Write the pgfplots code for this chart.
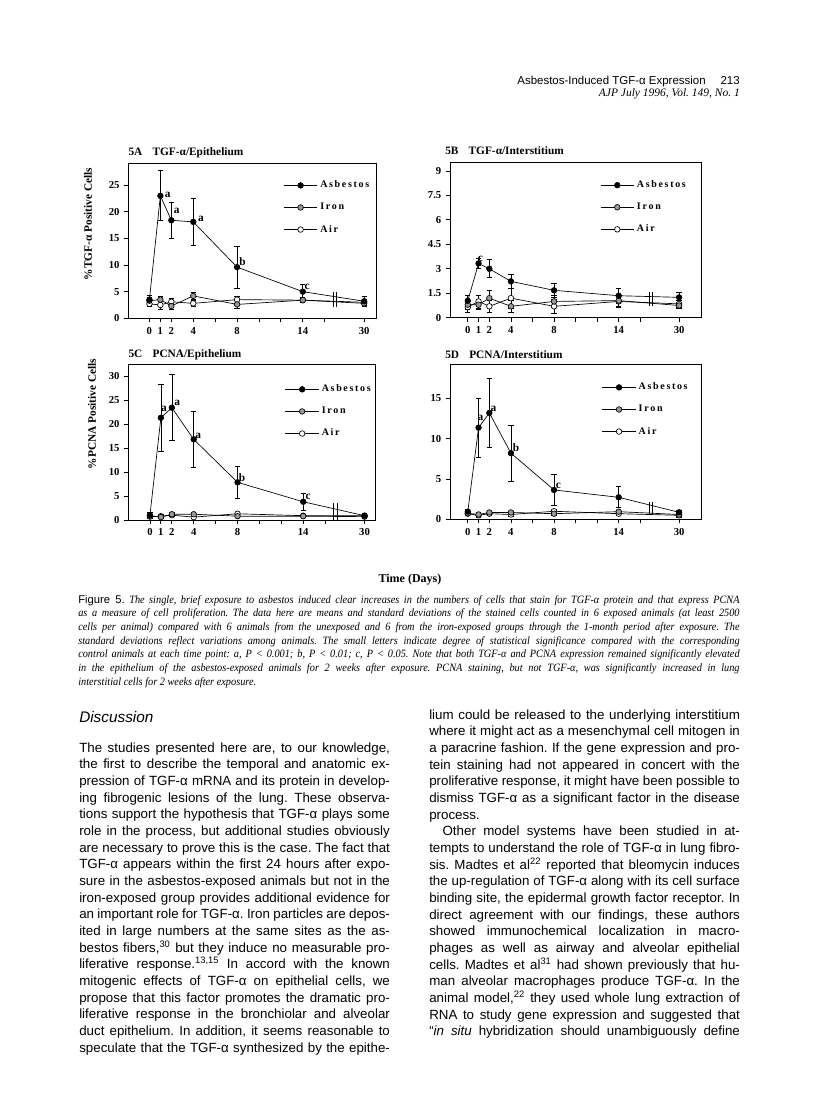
\documentclass[border=0pt]{standalone}
\usepackage{pgfplots}
\pgfplotsset{compat=1.18}
\usepackage{fontspec}
\setmainfont{Liberation Serif}
\setsansfont{Liberation Sans}
\newfontfamily\capfont[FakeStretch=0.92]{Liberation Serif}
\frenchspacing

\newlength\colw \setlength\colw{233pt}
\newlength\capw \setlength\capw{496pt}
\newcommand\JL[1]{\hbox to\colw{#1}}
\newcommand\LL[1]{\hbox to\colw{#1\hfil}}
\newcommand\CJ[1]{\hbox to\capw{#1}}
\newcommand\CL[1]{\hbox to\capw{#1\hfil}}

\tikzset{lab/.style={font=\bfseries\fontsize{8.5}{9}\selectfont, inner sep=0pt}}
\pgfplotsset{
  panel/.style={
    scale only axis, ymin=0,
    axis line style={line width=0.6pt},
    tick align=outside, tick pos=left,
    major tick length=3pt,
    tick style={line width=0.6pt, black},
    xtick={0,1,2,4,6,8,10,12,14,16,19.6},
    xticklabels={0,1,2,4,,8,,,14,,30},
    ticklabel style={font=\bfseries\fontsize{8}{9}\selectfont},
    /pgf/number format/assume math mode=true,
    legend cell align=left,
    reverse legend,
    legend image code/.code={\draw[mark repeat=2,mark phase=2] plot coordinates {(0pt,0pt)(12.5pt,0pt)(25pt,0pt)};},
    legend style={draw=none, fill=none, anchor=north west, inner sep=0pt,
      row sep=6pt, font=\bfseries\fontsize{7.5}{8}\selectfont},
  },
  ser/.style={black, line width=0.5pt, mark=*, mark size=2.1pt,
    error bars/y dir=both, error bars/y explicit,
    error bars/error bar style={line width=0.5pt},
    error bars/error mark options={rotate=90, mark size=2pt, line width=0.5pt}},
  asb/.style={ser, mark options={fill=black, draw=black}},
  iron/.style={ser, mark options={fill=gray!80, draw=black}},
  air/.style={ser, mark options={fill=white, draw=black}},
  brk/.style={black, no markers, line width=0.6pt, forget plot},
}

\begin{document}
\begin{tikzpicture}
\path[use as bounding box] (0,0) rectangle (612pt,-836.25pt);

% 5A
\begin{axis}[panel, at={(96.2pt,-238.7pt)}, anchor=south west,
  width=185.8pt, height=116.25pt, xmin=-1.93, xmax=20.68, ymax=29.1,
  ytick={0,5,...,25}, legend style={at={(0.626,0.905)}}]
\addplot[air] coordinates {(0,2.7) +- (0,0.5) (1,2.5) +- (0,0.8) (2,3.1) +- (0,0.6) (4,2.8) +- (0,0.6) (8,3.5) +- (0,0.7) (14,3.4) +- (0,0.5) (19.6,3.0) +- (0,0.5)};
\addplot[iron] coordinates {(0,3.3) +- (0,0.6) (1,3.5) +- (0,0.7) (2,2.3) +- (0,0.6) (4,4.2) +- (0,0.6) (8,2.6) +- (0,0.8) (14,3.4) +- (0,0.5) (19.6,2.8) +- (0,0.6)};
\addplot[asb] coordinates {(0,3.5) +- (0,0.8) (1,23.0) +- (0,4.7) (2,18.4) +- (0,3.4) (4,18.1) +- (0,4.4) (8,9.6) +- (0,3.9) (14,5.0) +- (0,1.4) (19.6,3.2) +- (0,1.0)};
\addplot[brk] coordinates {(16.8,2.2) (16.8,5.0)};
\addplot[brk] coordinates {(17.1,2.2) (17.1,5.0)};
\legend{A\,i\,r, I\,r\,o\,n, A\,s\,b\,e\,s\,t\,o\,s}
\node[lab] at (axis cs:1.68,23.2) {a};
\node[lab] at (axis cs:2.5,20.2) {a};
\node[lab] at (axis cs:4.7,18.6) {a};
\node[lab] at (axis cs:8.5,10.6) {b};
\node[lab] at (axis cs:14.4,5.9) {c};
\end{axis}

% 5B
\begin{axis}[panel, at={(337.5pt,-238.3pt)}, anchor=south west,
  width=188.8pt, height=116.25pt, xmin=-1.65, xmax=21.7, ymax=9.5,
  ytick={0,1.5,3,4.5,6,7.5,9}, legend style={at={(0.596,0.903)}}]
\addplot[air] coordinates {(0,0.65) +- (0,0.3) (1,1.0) +- (0,0.4) (2,0.7) +- (0,0.35) (4,1.2) +- (0,0.6) (8,0.7) +- (0,0.45) (14,1.0) +- (0,0.3) (19.6,0.85) +- (0,0.2)};
\addplot[iron] coordinates {(0,0.8) +- (0,0.3) (1,0.8) +- (0,0.3) (2,1.2) +- (0,0.5) (4,0.7) +- (0,0.35) (8,1.0) +- (0,0.35) (14,1.05) +- (0,0.4) (19.6,0.75) +- (0,0.2)};
\addplot[asb] coordinates {(0,1.04) +- (0,0.35) (1,3.33) +- (0,0.3) (2,3.0) +- (0,0.55) (4,2.23) +- (0,0.4) (8,1.68) +- (0,0.4) (14,1.35) +- (0,0.45) (19.6,1.25) +- (0,0.3)};
\addplot[brk] coordinates {(16.8,0.7) (16.8,1.6)};
\addplot[brk] coordinates {(17.1,0.7) (17.1,1.6)};
\legend{A\,i\,r, I\,r\,o\,n, A\,s\,b\,e\,s\,t\,o\,s}
\node[lab] at (axis cs:1.17,3.58) {c};
\end{axis}

% 5C
\begin{axis}[panel, at={(96.2pt,-390pt)}, anchor=south west,
  width=185pt, height=117pt, xmin=-1.98, xmax=20.55, ymax=32.5,
  ytick={0,5,...,30}, legend style={at={(0.635,0.885)}}]
\addplot[air] coordinates {(0,0.7) +- (0,0.3) (1,0.8) +- (0,0.3) (2,1.0) +- (0,0.3) (4,0.6) +- (0,0.3) (8,1.3) +- (0,0.3) (14,0.9) +- (0,0.3) (19.6,0.9) +- (0,0.3)};
\addplot[iron] coordinates {(0,0.9) +- (0,0.3) (1,0.6) +- (0,0.3) (2,1.2) +- (0,0.3) (4,1.2) +- (0,0.3) (8,0.8) +- (0,0.3) (14,0.8) +- (0,0.3) (19.6,0.7) +- (0,0.3)};
\addplot[asb] coordinates {(0,1.0) +- (0,0.5) (1,21.3) +- (0,7.0) (2,23.4) +- (0,6.9) (4,16.8) +- (0,5.9) (8,7.85) +- (0,3.4) (14,3.8) +- (0,1.8) (19.6,0.9) +- (0,0.4)};
\addplot[brk] coordinates {(16.8,0.1) (16.8,3.5)};
\addplot[brk] coordinates {(17.1,0.1) (17.1,3.5)};
\legend{A\,i\,r, I\,r\,o\,n, A\,s\,b\,e\,s\,t\,o\,s}
\node[lab] at (axis cs:1.28,23.06) {a};
\node[lab] at (axis cs:2.49,24.4) {a};
\node[lab] at (axis cs:4.4,17.5) {a};
\node[lab] at (axis cs:8.4,8.9) {b};
\node[lab] at (axis cs:14.45,4.85) {c};
\end{axis}

% 5D
\begin{axis}[panel, at={(337.5pt,-389.5pt)}, anchor=south west,
  width=188.8pt, height=116.25pt, xmin=-1.65, xmax=21.7, ymax=19.2,
  ytick={0,5,10,15}, legend style={at={(0.603,0.899)}}]
\addplot[air] coordinates {(0,0.7) +- (0,0.2) (1,0.5) +- (0,0.2) (2,0.7) +- (0,0.2) (4,0.6) +- (0,0.2) (8,1.0) +- (0,0.2) (14,0.7) +- (0,0.2) (19.6,0.5) +- (0,0.2)};
\addplot[iron] coordinates {(0,0.75) +- (0,0.2) (1,0.6) +- (0,0.2) (2,0.85) +- (0,0.2) (4,0.85) +- (0,0.2) (8,0.7) +- (0,0.2) (14,0.95) +- (0,0.2) (19.6,0.6) +- (0,0.2)};
\addplot[asb] coordinates {(0,0.95) +- (0,0.3) (1,11.36) +- (0,3.65) (2,13.18) +- (0,4.3) (4,8.2) +- (0,3.5) (8,3.64) +- (0,1.95) (14,2.73) +- (0,1.3) (19.6,0.87) +- (0,0.2)};
\addplot[brk] coordinates {(16.8,0.5) (16.8,2.2)};
\addplot[brk] coordinates {(17.1,0.5) (17.1,2.2)};
\legend{A\,i\,r, I\,r\,o\,n, A\,s\,b\,e\,s\,t\,o\,s}
\node[lab] at (axis cs:1.17,12.6) {a};
\node[lab] at (axis cs:2.38,13.7) {a};
\node[lab] at (axis cs:4.48,8.9) {b};
\node[lab] at (axis cs:8.4,4.2) {c};
\end{axis}

\begin{scope}[x=0.75pt, y=-0.75pt]
% panel titles and axis labels
\node[anchor=west, inner sep=0, font=\bfseries\fontsize{8.5}{10}\selectfont] at (128.3,152.3) {5A\hspace{0.9em}TGF-α/Epithelium};
\node[anchor=west, inner sep=0, font=\bfseries\fontsize{8.5}{10}\selectfont] at (445,151) {5B\hspace{0.9em}TGF-α/Interstitium};
\node[anchor=west, inner sep=0, font=\bfseries\fontsize{8.5}{10}\selectfont] at (128.3,355) {5C\hspace{0.9em}PCNA/Epithelium};
\node[anchor=west, inner sep=0, font=\bfseries\fontsize{8.5}{10}\selectfont] at (445,355) {5D\hspace{0.9em}PCNA/Interstitium};
\node[rotate=90, inner sep=0, font=\bfseries\fontsize{8.5}{10}\selectfont] at (88,224) {\%TGF-α Positive Cells};
\node[rotate=90, inner sep=0, font=\bfseries\fontsize{8.5}{10}\selectfont] at (92,414) {\%PCNA Positive Cells};
\node[inner sep=0, font=\bfseries\fontsize{9}{10}\selectfont] at (410,580) {Time (Days)};

% running head
\node[anchor=base east, inner sep=0, font=\sffamily\fontsize{8.6}{10}\selectfont] at (740,84) {Asbestos-Induced TGF-α Expression\hspace{1.3em}213};
\node[anchor=base east, inner sep=0, font=\itshape\fontsize{8.6}{10}\selectfont] at (740,96) {AJP July 1996, Vol. 149, No. 1};

% caption
\node[anchor=base west, inner sep=0, font=\capfont\itshape\fontsize{8.4}{10}\selectfont] at (78,603) {\vtop{\baselineskip=10.25pt
\CJ{{\sffamily\upshape Figure 5.} The single, brief exposure to asbestos induced clear increases in the numbers of cells that stain for TGF-α protein and that express PCNA}
\CJ{as a measure of cell proliferation. The data here are means and standard deviations of the stained cells counted in 6 exposed animals (at least 2500}
\CJ{cells per animal) compared with 6 animals from the unexposed and 6 from the iron-exposed groups through the 1-month period after exposure. The}
\CJ{standard deviations reflect variations among animals. The small letters indicate degree of statistical significance compared with the corresponding}
\CJ{control animals at each time point: a, P < 0.001; b, P < 0.01; c, P < 0.05. Note that both TGF-α and PCNA expression remained significantly elevated}
\CJ{in the epithelium of the asbestos-exposed animals for 2 weeks after exposure. PCNA staining, but not TGF-α, was significantly increased in lung}
\CL{interstitial cells for 2 weeks after exposure.}}};

% body text
\node[anchor=base west, inner sep=0, font=\sffamily\itshape\fontsize{11.5}{13}\selectfont] at (79,722) {Discussion};
\node[anchor=base west, inner sep=0, font=\sffamily\fontsize{10}{12.5}\selectfont] at (79,752) {\vtop{\baselineskip=12.5pt
\JL{The studies presented here are, to our knowledge,}
\JL{the first to describe the temporal and anatomic ex-}
\JL{pression of TGF-α mRNA and its protein in develop-}
\JL{ing fibrogenic lesions of the lung. These observa-}
\JL{tions support the hypothesis that TGF-α plays some}
\JL{role in the process, but additional studies obviously}
\JL{are necessary to prove this is the case. The fact that}
\JL{TGF-α appears within the first 24 hours after expo-}
\JL{sure in the asbestos-exposed animals but not in the}
\JL{iron-exposed group provides additional evidence for}
\JL{an important role for TGF-α. Iron particles are depos-}
\JL{ited in large numbers at the same sites as the as-}
\JL{bestos fibers,\textsuperscript{30} but they induce no measurable pro-}
\JL{liferative response.\textsuperscript{13,15} In accord with the known}
\JL{mitogenic effects of TGF-α on epithelial cells, we}
\JL{propose that this factor promotes the dramatic pro-}
\JL{liferative response in the bronchiolar and alveolar}
\JL{duct epithelium. In addition, it seems reasonable to}
\JL{speculate that the TGF-α synthesized by the epithe-}}};
\node[anchor=base west, inner sep=0, font=\sffamily\fontsize{10}{12.5}\selectfont] at (429,719) {\vtop{\baselineskip=12.5pt
\JL{lium could be released to the underlying interstitium}
\JL{where it might act as a mesenchymal cell mitogen in}
\JL{a paracrine fashion. If the gene expression and pro-}
\JL{tein staining had not appeared in concert with the}
\JL{proliferative response, it might have been possible to}
\JL{dismiss TGF-α as a significant factor in the disease}
\LL{process.}
\JL{\hspace{1em}Other model systems have been studied in at-}
\JL{tempts to understand the role of TGF-α in lung fibro-}
\JL{sis. Madtes et al\textsuperscript{22} reported that bleomycin induces}
\JL{the up-regulation of TGF-α along with its cell surface}
\JL{binding site, the epidermal growth factor receptor. In}
\JL{direct agreement with our findings, these authors}
\JL{showed immunochemical localization in macro-}
\JL{phages as well as airway and alveolar epithelial}
\JL{cells. Madtes et al\textsuperscript{31} had shown previously that hu-}
\JL{man alveolar macrophages produce TGF-α. In the}
\JL{animal model,\textsuperscript{22} they used whole lung extraction of}
\JL{RNA to study gene expression and suggested that}
\JL{“\textit{in situ} hybridization should unambiguously define}}};
\end{scope}
\end{tikzpicture}
\end{document}
